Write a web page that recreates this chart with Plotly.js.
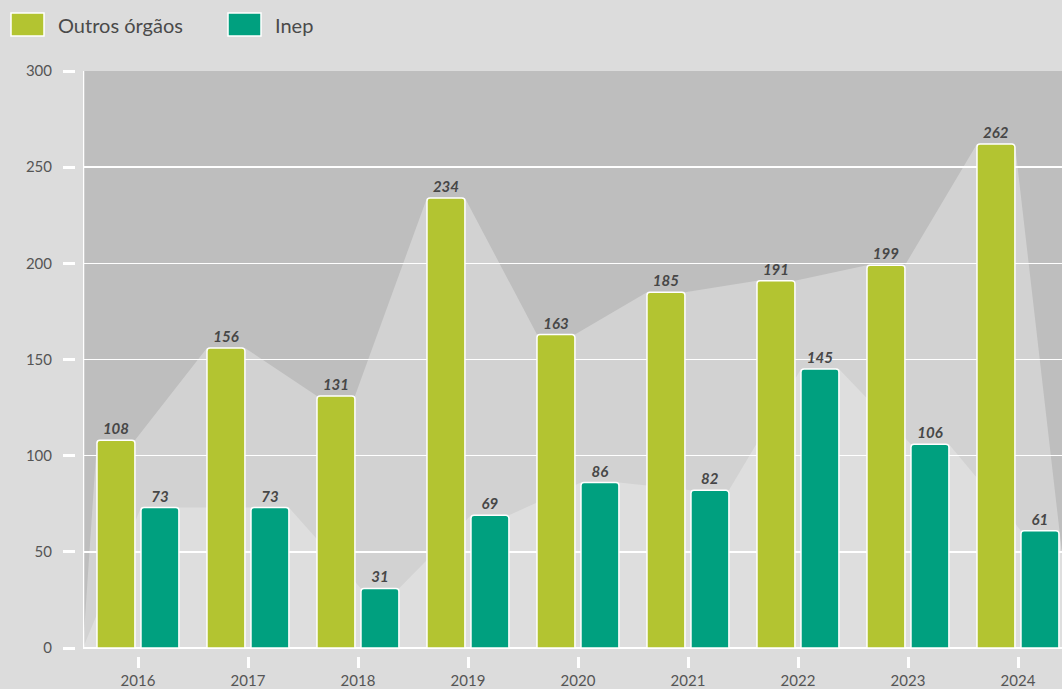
<!DOCTYPE html>
<html>
<head>
<meta charset="utf-8">
<script src="https://cdn.plot.ly/plotly-3.0.1.min.js"></script>
<style>html,body{margin:0;padding:0;overflow:hidden;background:#dcdcdc;}</style>
</head>
<body>
<div id="chart" style="width:1062px;height:689px;"></div>
<script>
const categories = ['2016','2017','2018','2019','2020','2021','2022','2023','2024'];
const outros = [108,156,131,234,163,185,191,199,262];
const inep = [73,73,31,69,86,82,145,106,61];
const seriesNames = ['Outros órgãos','Inep'];
const yTicks = [0,50,100,150,200,250,300];

const GREEN = '#b3c431', TEAL = '#00a07f';
const W = 1062, H = 689;
const barW = 0.345, offG = -0.373, offI = 0.027;
const idx = categories.map((c,i)=>i);

function areaPath(vals, off){
  let p = 'M-0.5,0';
  vals.forEach((v,i)=>{ p += ' L'+(i+off)+','+v+' L'+(i+off+barW)+','+v; });
  p += ' L'+(vals.length-0.5)+',0 Z';
  return p;
}

const font = 'Lato, "Open Sans", sans-serif';
const labelFont = {family:font, size:15, color:'#474747', style:'italic', weight:700};

const traces = [
  {type:'bar', name:seriesNames[0], x:idx, y:outros, width:barW, offset:offG,
   marker:{color:GREEN, line:{color:'#ffffff', width:1.5}, cornerradius:3},
   text:outros.map(String), textposition:'outside', cliponaxis:false, textfont:labelFont,
   showlegend:false, hoverinfo:'y'},
  {type:'bar', name:seriesNames[1], x:idx, y:inep, width:barW, offset:offI,
   marker:{color:TEAL, line:{color:'#ffffff', width:1.5}, cornerradius:3},
   text:inep.map(String), textposition:'outside', cliponaxis:false, textfont:labelFont,
   showlegend:false, hoverinfo:'y'}
];

const shapes = [
  {type:'path', xref:'x', yref:'y', path:areaPath(outros, offG), fillcolor:'#d2d2d2', line:{width:0}, layer:'below'},
  {type:'path', xref:'x', yref:'y', path:areaPath(inep, offI), fillcolor:'#dedede', line:{width:0}, layer:'below'},
  {type:'line', xref:'x', yref:'y', x0:-0.5, x1:-0.5, y0:0, y1:300, line:{color:'#ffffff', width:2.5}, layer:'above'},
  // legend swatches
  {type:'rect', xref:'paper', yref:'paper', x0:11/W, x1:44/W, y0:1-36/H, y1:1-13/H, fillcolor:GREEN, line:{color:'#ffffff', width:1.5}},
  {type:'rect', xref:'paper', yref:'paper', x0:228/W, x1:261/W, y0:1-36/H, y1:1-13/H, fillcolor:TEAL, line:{color:'#ffffff', width:1.5}}
];

const annotations = [
  {xref:'paper', yref:'paper', x:56/W, y:1-25/H, xanchor:'left', yanchor:'middle', text:seriesNames[0], showarrow:false,
   font:{family:font, size:20, color:'#4a4a4a'}},
  {xref:'paper', yref:'paper', x:273/W, y:1-25/H, xanchor:'left', yanchor:'middle', text:seriesNames[1], showarrow:false,
   font:{family:font, size:20, color:'#4a4a4a'}}
];

const layout = {
  width:W, height:H,
  margin:{l:0, r:0, t:0, b:0, pad:0},
  paper_bgcolor:'#dcdcdc', plot_bgcolor:'#bebebe',
  barmode:'overlay',
  showlegend:false,
  font:{family:font, color:'#555555'},
  xaxis:{domain:[83/W, 1], range:[-0.5, 8.4], anchor:'free', position:33/H,
    tickmode:'array', tickvals:idx, ticktext:categories,
    ticks:'outside', ticklen:11, tickwidth:3, tickcolor:'#ffffff',
    showgrid:false, zeroline:false, showline:false,
    tickfont:{family:font, size:15, color:'#555555'}, fixedrange:true},
  yaxis:{domain:[41/H, 618/H], range:[0,300], anchor:'free', position:75/W,
    tickmode:'array', tickvals:yTicks,
    ticks:'outside', ticklen:12, tickwidth:3, tickcolor:'#ffffff',
    showgrid:true, gridcolor:'#ffffff', gridwidth:1.5,
    zeroline:true, zerolinecolor:'#ffffff', zerolinewidth:2.5,
    showline:false, ticklabelstandoff:8,
    tickfont:{family:font, size:15, color:'#555555'}, fixedrange:true},
  shapes:shapes,
  annotations:annotations
};

Plotly.newPlot('chart', traces, layout, {displayModeBar:false, staticPlot:true});
</script>
</body>
</html>
